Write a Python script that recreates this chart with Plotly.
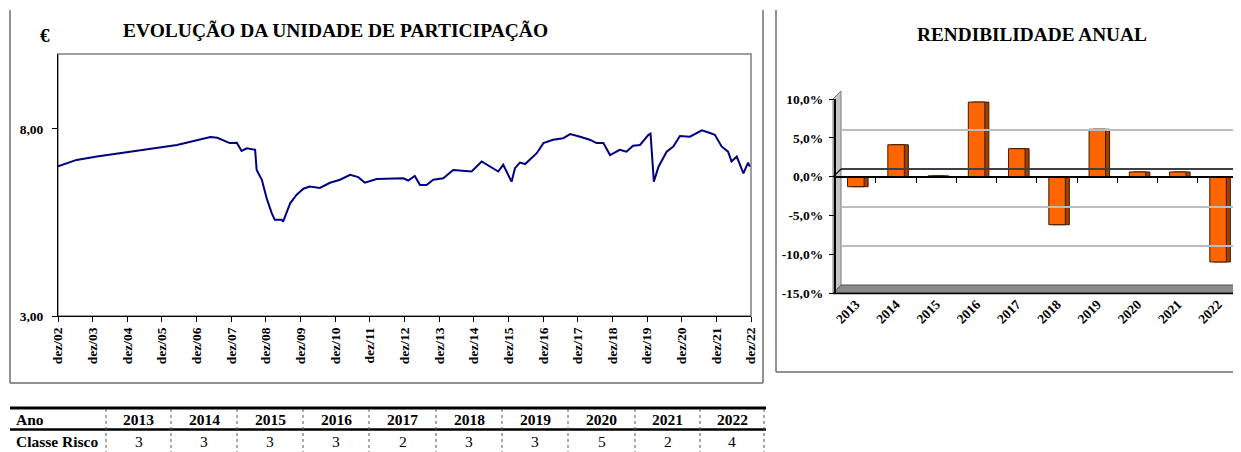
import plotly.graph_objects as go

# the page body adds an 8 px offset; the figure is sized and placed to compensate
OFF = 8
W, H = 1241 - OFF, 452 - OFF

# ---------------- data ----------------
nav_dates = ["2002-12-31","2003-07-15","2004-02-15","2005-06-15","2006-06-07","2007-05-25","2007-08-07",
             "2007-12-15","2008-02-28","2008-04-18","2008-06-12","2008-09-08","2008-09-24","2008-11-18",
             "2009-01-07","2009-03-02","2009-04-03","2009-06-15","2009-06-30","2009-09-12","2009-11-20",
             "2010-01-30","2010-04-07","2010-07-22","2010-11-06","2011-02-20","2011-06-06","2011-08-31",
             "2011-11-09","2012-03-12","2012-12-18","2013-02-08","2013-04-18","2013-06-12","2013-08-20",
             "2013-10-30","2014-02-12","2014-05-28","2014-10-18","2014-12-08","2015-03-24","2015-06-18",
             "2015-09-15","2015-11-06","2015-12-12","2016-02-02","2016-03-09","2016-04-30","2016-06-24",
             "2016-10-24","2017-01-03","2017-04-15","2017-07-31","2017-10-12","2018-01-25","2018-05-06",
             "2018-07-18","2018-09-27","2018-12-06","2019-03-18","2019-05-28","2019-08-06","2019-10-18",
             "2020-01-15","2020-02-06","2020-03-12","2020-04-30","2020-07-25","2020-10-03","2020-12-12",
             "2021-03-27","2021-07-31","2021-10-25","2021-12-15","2022-02-24","2022-05-03","2022-06-09",
             "2022-08-03","2022-10-12","2022-11-30","2022-12-18"]
nav_values = [7.00, 7.17, 7.26, 7.44, 7.57, 7.78, 7.76,
              7.62, 7.63, 7.41, 7.48, 7.44, 6.90, 6.64,
              6.15, 5.75, 5.57, 5.57, 5.52, 6.01, 6.24,
              6.40, 6.46, 6.42, 6.56, 6.64, 6.77, 6.71,
              6.56, 6.66, 6.68, 6.62, 6.74, 6.50, 6.50,
              6.64, 6.68, 6.90, 6.88, 6.86, 7.13, 6.99,
              6.86, 7.04, 6.86, 6.59, 6.95, 7.10, 7.06,
              7.35, 7.62, 7.71, 7.75, 7.86, 7.79, 7.71,
              7.62, 7.62, 7.30, 7.44, 7.39, 7.55, 7.57,
              7.84, 7.87, 6.59, 6.99, 7.39, 7.53, 7.81,
              7.79, 7.96, 7.89, 7.84, 7.53, 7.39, 7.13,
              7.26, 6.81, 7.10, 6.99]

nav_tick_dates = [f"{y}-12-31" for y in range(2002, 2023)]
nav_tick_labels = [f"dez/{y % 100:02d}" for y in range(2002, 2023)]
nav_y_ticks = [3, 8]
nav_y_labels = ["3,00", "8,00"]

years = ["2013", "2014", "2015", "2016", "2017", "2018", "2019", "2020", "2021", "2022"]
returns = [-1.3, 4.1, 0.1, 9.6, 3.6, -6.2, 6.1, 0.6, 0.6, -11.0]
ret_ticks = [-15, -10, -5, 0, 5, 10]
ret_labels = ["-15,0%", "-10,0%", "-5,0%", "0,0%", "5,0%", "10,0%"]

risk_class = [3, 3, 3, 3, 2, 3, 3, 5, 2, 4]

# ---------------- helpers (screen px -> paper) ----------------
def px(x):
    return (x - OFF) / W

def py(y):
    return 1 - (y - OFF) / H

SERIF = "Liberation Serif"
BOLD = dict(family=SERIF, weight="bold", color="black")

fig = go.Figure()

fig.add_trace(go.Scatter(x=nav_dates, y=nav_values, mode="lines",
                         line=dict(color="#000080", width=2),
                         xaxis="x", yaxis="y", showlegend=False, hoverinfo="skip"))

ncat = len(years)
cat_idx = list(range(ncat))
bw = 0.41
fig.add_trace(go.Bar(x=cat_idx, y=returns, width=bw, offset=-bw / 2 + 0.1,
                     marker=dict(color="#A34000", line=dict(color="#3A1A00", width=1)),
                     xaxis="x2", yaxis="y3", showlegend=False, hoverinfo="skip"))
fig.add_trace(go.Bar(x=cat_idx, y=returns, width=bw, offset=-bw / 2,
                     marker=dict(color="#FF6600", line=dict(color="#3A1A00", width=1)),
                     xaxis="x2", yaxis="y4", showlegend=False, hoverinfo="skip"))
fig.add_trace(go.Scatter(x=[0], y=[0], mode="markers", marker=dict(opacity=0),
                         xaxis="x3", yaxis="y5", showlegend=False, hoverinfo="skip"))
fig.add_trace(go.Scatter(x=[0], y=[0], mode="markers", marker=dict(opacity=0),
                         xaxis="x4", yaxis="y2", showlegend=False, hoverinfo="skip"))

shift = 8
bar_shift = 3

fig.update_layout(
    template="none",
    width=W, height=H, margin=dict(l=0, r=0, t=0, b=0, pad=0, autoexpand=False),
    paper_bgcolor="white", plot_bgcolor="rgba(0,0,0,0)", showlegend=False,
    barmode="overlay", font=dict(family=SERIF, color="black"),
    xaxis=dict(domain=[px(58), px(751)], anchor="y", type="date",
               range=["2002-12-31", "2022-12-31"],
               tickmode="array", tickvals=nav_tick_dates, ticktext=nav_tick_labels,
               tickangle=-90, ticks="outside", ticklen=5, tickcolor="black",
               tickfont=dict(size=13.5, **BOLD), showline=True, linecolor="black",
               linewidth=1, showgrid=False, zeroline=False, automargin=False),
    yaxis=dict(domain=[py(316), py(54)], anchor="x", range=[3, 10],
               tickmode="array", tickvals=nav_y_ticks, ticktext=nav_y_labels,
               ticks="outside", ticklen=5, tickcolor="black", ticklabelstandoff=6,
               tickfont=dict(size=13.5, **BOLD), showline=True, linecolor="black",
               linewidth=1, showgrid=False, zeroline=False, automargin=False),
    xaxis2=dict(domain=[px(835.7), px(1238.2)], anchor="y2", range=[-0.5, ncat - 0.5],
                tickmode="array", tickvals=cat_idx, ticktext=years, tickangle=-45,
                ticks="", tickfont=dict(size=13.5, **BOLD), showline=False,
                showgrid=False, zeroline=False, automargin=False),
    yaxis2=dict(domain=[py(293), py(99)], anchor="x2", range=[-15, 10],
                tickmode="array", tickvals=ret_ticks, ticktext=ret_labels,
                ticks="outside", ticklen=5, tickcolor="black", ticklabelstandoff=3,
                tickfont=dict(size=13.5, **BOLD), showline=True, linecolor="black",
                linewidth=1.5, showgrid=False, zeroline=False, automargin=False),
    yaxis3=dict(domain=[py(293 - bar_shift - 4), py(99 - bar_shift - 4)], overlaying="y2", anchor="x2",
                range=[-15, 10], visible=False, automargin=False),
    yaxis4=dict(domain=[py(293 - bar_shift), py(99 - bar_shift)], overlaying="y2", anchor="x2",
                range=[-15, 10], visible=False, automargin=False),
    xaxis3=dict(domain=[px(841), 1.0], anchor="y5", range=[0, 1], visible=False, automargin=False),
    yaxis5=dict(domain=[py(293 - shift), py(99 - shift)], anchor="x3", range=[-15, 10],
                tickmode="array", tickvals=ret_ticks, showticklabels=False, ticks="",
                showgrid=True, gridcolor="#BDBDBD", gridwidth=2,
                zeroline=True, zerolinecolor="#404040", zerolinewidth=1.5,
                showline=False, automargin=False),
    xaxis4=dict(domain=[px(835.7), px(1238.2)], anchor="free", position=py(177),
                overlaying="x2", range=[-0.5, ncat - 0.5], side="bottom",
                tickmode="array", tickvals=[i - 0.5 for i in range(ncat + 1)],
                ticks="outside", ticklen=5, tickcolor="black", showticklabels=False,
                showline=True, linecolor="black", linewidth=1.5, showgrid=False,
                zeroline=False, automargin=False),
)

shapes = []
shapes.append(dict(type="rect", xref="paper", yref="paper", x0=px(58), x1=px(751), y0=py(316), y1=py(54),
                   line=dict(color="#808080", width=1.5), layer="below"))
frame = dict(color="#6E6E6E", width=1.5)
shapes += [
    dict(type="line", xref="paper", yref="paper", x0=px(10), x1=px(10), y0=py(10), y1=py(383), line=frame),
    dict(type="line", xref="paper", yref="paper", x0=px(10), x1=px(763), y0=py(383), y1=py(383), line=frame),
    dict(type="line", xref="paper", yref="paper", x0=px(763), x1=px(763), y0=py(10), y1=py(383), line=frame),
    dict(type="line", xref="paper", yref="paper", x0=px(776), x1=px(776), y0=py(10), y1=py(372), line=frame),
    dict(type="line", xref="paper", yref="paper", x0=px(776), x1=px(1241), y0=py(372), y1=py(372), line=frame),
]

def path(points):
    return "M " + " L ".join(f"{px(a):.5f},{py(b):.5f}" for a, b in points) + " Z"

shapes.append(dict(type="path", xref="paper", yref="paper",
                   path=path([(833, 99), (841, 91), (841, 285), (833, 293)]),
                   fillcolor="#C4C4C4", line=dict(color="#7A7A7A", width=1), layer="below"))
shapes.append(dict(type="path", xref="paper", yref="paper",
                   path=path([(833, 293), (841, 285), (1241, 285), (1241, 293)]),
                   fillcolor="#8A8A8A", line=dict(color="#555555", width=1), layer="below"))
shapes.append(dict(type="line", xref="paper", yref="paper", x0=px(833), x1=px(1241), y0=py(293.5), y1=py(293.5),
                   line=dict(color="black", width=1.5)))
shapes.append(dict(type="line", xref="paper", yref="paper", x0=px(833), x1=px(841), y0=py(177), y1=py(169),
                   line=dict(color="black", width=1.2)))

# ---------- table ----------
tbl_left, tbl_right = 10, 766
col_edges = [106, 171, 237, 303, 369, 436, 502, 568, 635, 700, 764]
shapes.append(dict(type="line", xref="paper", yref="paper", x0=px(tbl_left), x1=px(tbl_right),
                   y0=py(408), y1=py(408), line=dict(color="black", width=3)))
shapes.append(dict(type="line", xref="paper", yref="paper", x0=px(tbl_left), x1=px(tbl_right),
                   y0=py(429.5), y1=py(429.5), line=dict(color="black", width=2.5)))
for xe in col_edges:
    shapes.append(dict(type="line", xref="paper", yref="paper", x0=px(xe), x1=px(xe),
                       y0=py(409), y1=py(452), line=dict(color="#555555", width=1, dash="dot")))

annotations = []
annotations.append(dict(text="EVOLUÇÃO DA UNIDADE DE PARTICIPAÇÃO", x=px(335), y=py(30), xref="paper", yref="paper",
                        showarrow=False, xanchor="center", yanchor="middle", font=dict(size=19.5, **BOLD)))
annotations.append(dict(text="€", x=px(45), y=py(35), xref="paper", yref="paper",
                        showarrow=False, xanchor="center", yanchor="middle", font=dict(size=19, **BOLD)))
annotations.append(dict(text="RENDIBILIDADE ANUAL", x=px(1031.5), y=py(34.5), xref="paper", yref="paper",
                        showarrow=False, xanchor="center", yanchor="middle", font=dict(size=19.3, **BOLD)))
annotations.append(dict(text="Ano", x=px(14), y=py(419), xref="paper", yref="paper",
                        showarrow=False, xanchor="left", yanchor="middle", font=dict(size=15.5, **BOLD)))
annotations.append(dict(text="Classe Risco", x=px(14), y=py(441), xref="paper", yref="paper",
                        showarrow=False, xanchor="left", yanchor="middle", font=dict(size=15.5, **BOLD)))
for i, (yr, rc) in enumerate(zip(years, risk_class)):
    cx = (col_edges[i] + col_edges[i + 1]) / 2
    annotations.append(dict(text=yr, x=px(cx), y=py(419), xref="paper", yref="paper",
                            showarrow=False, xanchor="center", yanchor="middle", font=dict(size=15.5, **BOLD)))
    annotations.append(dict(text=str(rc), x=px(cx), y=py(441), xref="paper", yref="paper",
                            showarrow=False, xanchor="center", yanchor="middle",
                            font=dict(size=15.5, family=SERIF, color="black")))

fig.update_layout(shapes=shapes, annotations=annotations)
fig.write_html("out.html")
